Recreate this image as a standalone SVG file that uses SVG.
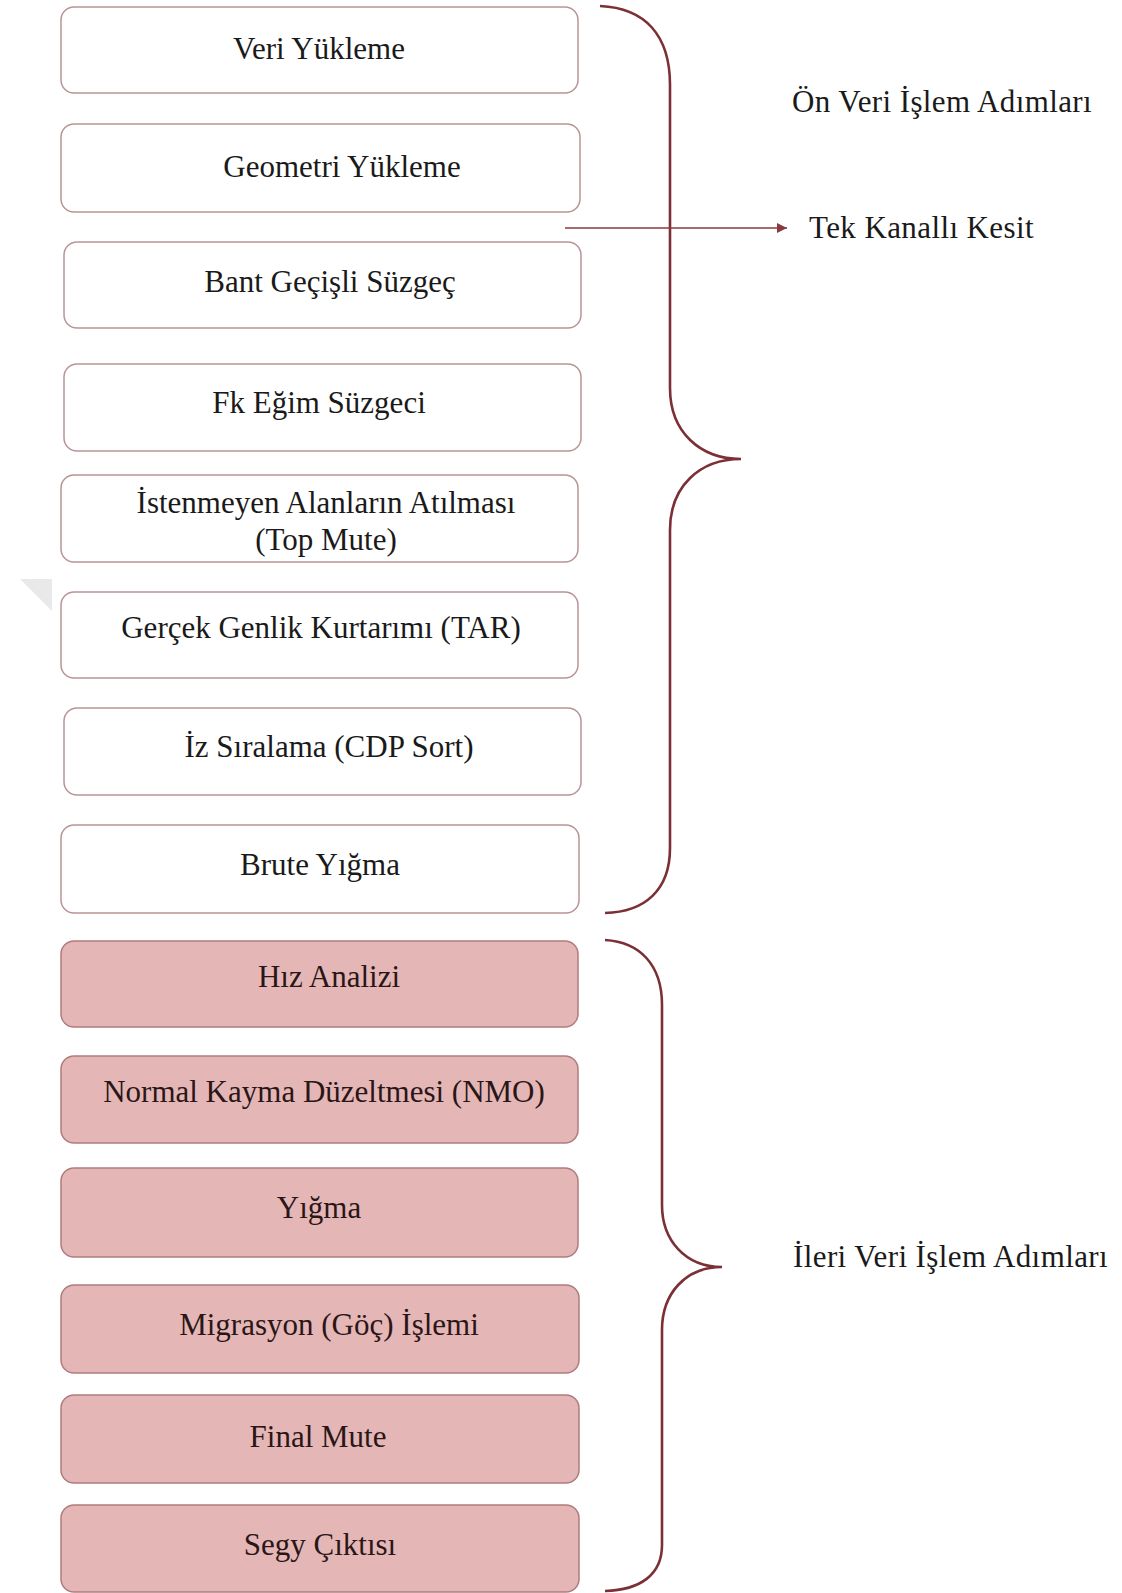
<svg xmlns="http://www.w3.org/2000/svg" width="1122" height="1593" viewBox="0 0 1122 1593">
<defs>
<style>
.w{fill:#ffffff;stroke:#b99497;stroke-width:1.5}
.p{fill:#e5b6b6;stroke:#b07c7e;stroke-width:1.5}
.t{font-family:"Liberation Serif","Times New Roman",serif;font-size:31px;fill:#1a1a1a;text-anchor:middle}
.tp{font-family:"Liberation Serif","Times New Roman",serif;font-size:31px;fill:#2a1616;text-anchor:middle}
.lbl{font-family:"Liberation Serif","Times New Roman",serif;font-size:31px;fill:#1a1a1a;letter-spacing:0.4px}
.brace{fill:none;stroke:#7c3035;stroke-width:2.6}
.arr{fill:none;stroke:#8a3a3e;stroke-width:1.6}
</style>
<marker id="ah" viewBox="0 0 10 10" refX="10" refY="5" markerWidth="15" markerHeight="10" markerUnits="userSpaceOnUse" orient="auto">
<path d="M0,0 L10,5 L0,10 z" fill="#8a3a3e"/>
</marker>
</defs>
<rect width="1122" height="1593" fill="#ffffff"/>
<polygon points="20,579 52,579 52,611" fill="#e9e9e9"/>

<g id="n1"><rect class="w" x="61" y="7" width="517" height="86" rx="13"/><text class="t" x="319" y="59">Veri Yükleme</text></g>
<g id="n2"><rect class="w" x="61" y="124" width="519" height="88" rx="13"/><text class="t" x="342" y="177">Geometri Yükleme</text></g>
<g id="n3"><rect class="w" x="64" y="242" width="517" height="86" rx="13"/><text class="t" x="330" y="292">Bant Geçişli Süzgeç</text></g>
<g id="n4"><rect class="w" x="64" y="364" width="517" height="87" rx="13"/><text class="t" x="319" y="413">Fk Eğim Süzgeci</text></g>
<g id="n5"><rect class="w" x="61" y="475" width="517" height="87" rx="13"/><text class="t" x="326" y="513">İstenmeyen Alanların Atılması</text><text class="t" x="326" y="550">(Top Mute)</text></g>
<g id="n6"><rect class="w" x="61" y="592" width="517" height="86" rx="13"/><text class="t" x="321" y="638">Gerçek Genlik Kurtarımı (TAR)</text></g>
<g id="n7"><rect class="w" x="64" y="708" width="517" height="87" rx="13"/><text class="t" x="329" y="757">İz Sıralama (CDP Sort)</text></g>
<g id="n8"><rect class="w" x="61" y="825" width="518" height="88" rx="13"/><text class="t" x="320" y="875">Brute Yığma</text></g>
<g id="n9"><rect class="p" x="61" y="941" width="517" height="86" rx="13"/><text class="tp" x="329" y="987">Hız Analizi</text></g>
<g id="n10"><rect class="p" x="61" y="1056" width="517" height="87" rx="13"/><text class="tp" x="324" y="1102">Normal Kayma Düzeltmesi (NMO)</text></g>
<g id="n11"><rect class="p" x="61" y="1168" width="517" height="89" rx="13"/><text class="tp" x="319" y="1218">Yığma</text></g>
<g id="n12"><rect class="p" x="61" y="1285" width="518" height="88" rx="13"/><text class="tp" x="329" y="1335">Migrasyon (Göç) İşlemi</text></g>
<g id="n13"><rect class="p" x="61" y="1395" width="518" height="88" rx="13"/><text class="tp" x="318" y="1447">Final Mute</text></g>
<g id="n14"><rect class="p" x="61" y="1505" width="518" height="87" rx="13"/><text class="tp" x="320" y="1555">Segy Çıktısı</text></g>

<g id="connectors">
<path class="brace" d="M600,6 C645,8 670,35 670,85 L670,388 C670,432 700,459 741,459 C700,459 670,486 670,530 L670,848 C670,890 645,912 605,913"/>
<path class="brace" d="M605,940 C640,942 662,965 662,1005 L662,1205 C662,1240 685,1267 722,1267 C685,1267 662,1294 662,1330 L662,1545 C662,1575 640,1590 605,1591"/>
<line class="arr" x1="565" y1="228" x2="787" y2="228" marker-end="url(#ah)"/>
</g>

<g id="labels">
<text class="lbl" x="792" y="112">Ön Veri İşlem Adımları</text>
<text class="lbl" x="809" y="238">Tek Kanallı Kesit</text>
<text class="lbl" x="793" y="1267">İleri Veri İşlem Adımları</text>
</g>
</svg>
